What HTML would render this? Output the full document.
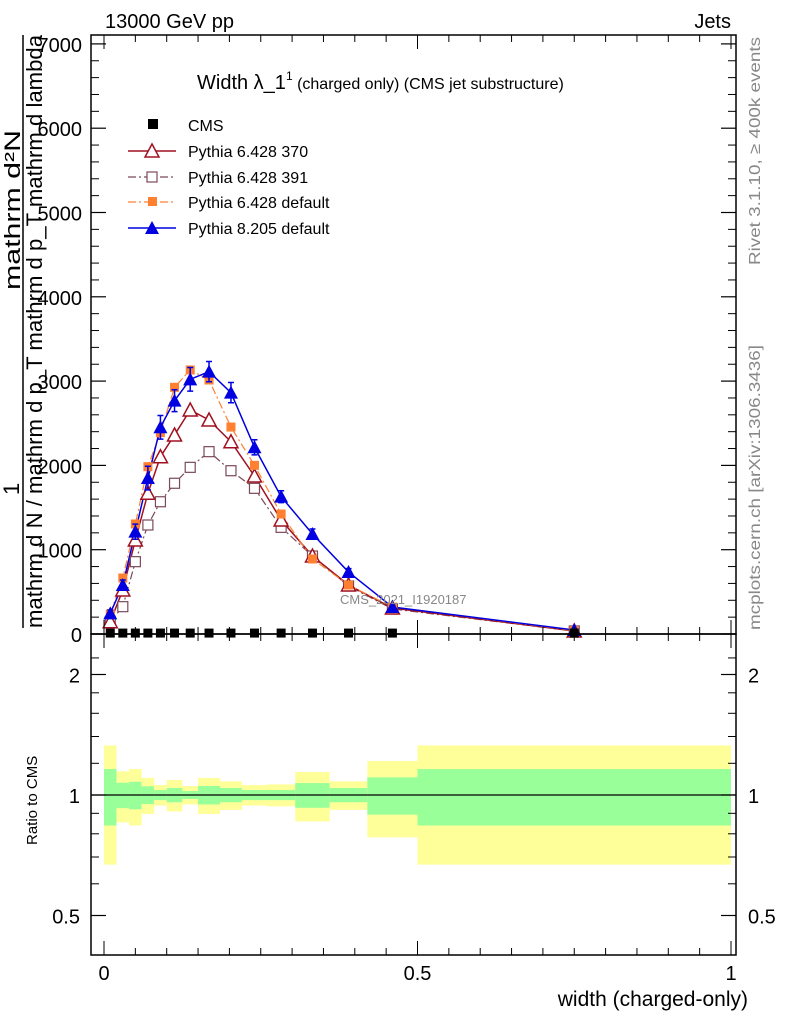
<!DOCTYPE html>
<html><head><meta charset="utf-8"><style>
body{margin:0;background:#fff}
svg{font-family:"Liberation Sans",sans-serif}
</style></head><body>
<svg id="c" width="786" height="1024" xmlns="http://www.w3.org/2000/svg">
<rect x="0" y="0" width="786" height="1024" fill="#fff"/>
<g id="ratioBands"></g>
<g id="main"></g>
<rect x="91" y="35" width="645" height="599" fill="none" stroke="#000" stroke-width="1.5"/>
<rect x="91" y="634" width="645" height="321" fill="none" stroke="#000" stroke-width="1.5"/>
<g id="axes"></g>
<text x="105" y="28" font-size="20">13000 GeV pp</text>
<text x="731" y="28" font-size="20" text-anchor="end">Jets</text>
<text x="197" y="89" font-size="20">Width λ_1<tspan font-size="12" dy="-9">1</tspan><tspan font-size="16" dy="9"> (charged only) (CMS jet substructure)</tspan></text>
<g>
<rect x="148" y="119" width="10" height="10" fill="#000"/>
<text x="188" y="131" font-size="16">CMS</text>
<line x1="128" y1="151" x2="176" y2="151" stroke="#a01020" stroke-width="1.5"/>
<polygon points="152,144 145,157 159,157" fill="#fff" stroke="#a01020" stroke-width="1.5"/>
<text x="188" y="157" font-size="16">Pythia 6.428 370</text>
<line x1="128" y1="177" x2="176" y2="177" stroke="#7a4a5a" stroke-width="1.2" stroke-dasharray="8,3,2,3"/>
<rect x="147" y="172" width="10" height="10" fill="#fff" stroke="#7a4a5a" stroke-width="1.2"/>
<text x="188" y="183" font-size="16">Pythia 6.428 391</text>
<line x1="128" y1="202" x2="176" y2="202" stroke="#ff8030" stroke-width="1.2" stroke-dasharray="8,3,2,3"/>
<rect x="148" y="197" width="9" height="9" fill="#ff8030"/>
<text x="188" y="208" font-size="16">Pythia 6.428 default</text>
<line x1="128" y1="228" x2="176" y2="228" stroke="#0000e0" stroke-width="1.5"/>
<polygon points="152,221 145,234 159,234" fill="#0000e0"/>
<text x="188" y="234" font-size="16">Pythia 8.205 default</text>
</g>
<text x="340" y="604" font-size="13" fill="#888">CMS_2021_I1920187</text>
<text transform="translate(760,265) rotate(-90)" font-size="16" fill="#888" textLength="228" lengthAdjust="spacingAndGlyphs">Rivet 3.1.10, ≥ 400k events</text>
<text transform="translate(760,630) rotate(-90)" font-size="16" fill="#888" textLength="285" lengthAdjust="spacingAndGlyphs">mcplots.cern.ch [arXiv:1306.3436]</text>
<g>
<text transform="translate(20,290) rotate(-90)" font-size="22" textLength="160" lengthAdjust="spacingAndGlyphs">mathrm d²N</text>
<line x1="23" y1="35" x2="23" y2="628" stroke="#000" stroke-width="1.5"/>
<text transform="translate(19,495) rotate(-90)" font-size="22">1</text>
<text transform="translate(42,628) rotate(-90)" font-size="22" textLength="593" lengthAdjust="spacingAndGlyphs">mathrm d N / mathrm d p_T mathrm d p_T mathrm d lambda</text>
</g>
<text transform="translate(37,845) rotate(-90)" font-size="15">Ratio to CMS</text>
<text x="748" y="1006" font-size="21" text-anchor="end">width (charged-only)</text>
</svg>
<script>
const edges=[0,0.02,0.04,0.06,0.08,0.10,0.125,0.15,0.185,0.22,0.26,0.305,0.36,0.42,0.5,1.0];
const centers=[0.01,0.03,0.05,0.07,0.09,0.1125,0.1375,0.1675,0.2025,0.24,0.2825,0.3325,0.39,0.46,0.75];
const cmsVals=[5,5,5,5,5,5,5,5,5,5,5,5,5,5,5];
const errTot=[0.33,0.146,0.161,0.103,0.059,0.090,0.053,0.103,0.082,0.059,0.063,0.141,0.082,0.216,0.33];
const errStat=[0.161,0.073,0.079,0.051,0.029,0.041,0.023,0.053,0.041,0.029,0.029,0.071,0.041,0.107,0.161];
const p8=[245,581,1214,1850,2452,2768,3021,3112,2863,2215,1629,1186,735,320,47];
const p8Err=[40,60,90,140,140,130,140,120,120,90,70,60,40,20,10];
const p6def=[238,664,1305,1985,2388,2926,3132,3013,2455,2001,1423,890,581,320,40];
const p6_370=[146,522,1115,1669,2103,2361,2657,2539,2281,1874,1352,925,581,308,36];
const p6_391=[146,324,858,1293,1569,1788,1977,2163,1937,1728,1265,925,570,297,36];
const yTicks=[0,1000,2000,3000,4000,5000,6000,7000];
const xTicks=[0,0.5,1];
const rTicks=[0.5,1,2];

const NS="http://www.w3.org/2000/svg";
const X=v=>104+v*627;
const Y=v=>634-v*0.0843;
const R=v=>795-Math.log2(v)*120.5;
function mk(tag,attrs,parent){const e=document.createElementNS(NS,tag);for(const k in attrs)e.setAttribute(k,attrs[k]);parent.appendChild(e);return e;}
const bands=document.getElementById('ratioBands');
const main=document.getElementById('main');
const axes=document.getElementById('axes');
for(let i=0;i<centers.length;i++){
  const x0=X(edges[i]),x1=X(edges[i+1]);
  let r=mk('rect',{x:x0,y:R(1+errTot[i]),width:x1-x0,height:R(1-errTot[i])-R(1+errTot[i]),fill:'#ffff99'},bands);
  
  
  r=mk('rect',{x:x0,y:R(1+errStat[i]),width:x1-x0,height:R(1-errStat[i])-R(1+errStat[i]),fill:'#99ff99'},bands);
  
  
}
let ln=mk('line',{x1:91,x2:736,y1:R(1),y2:R(1),stroke:'#000','stroke-width':1.2},bands);


function series(vals,color,dash,name,width){
  const attrs={points:vals.map((v,i)=>X(centers[i])+','+Y(v)).join(' '),fill:'none',stroke:color,'stroke-width':width};
  if(dash)attrs['stroke-dasharray']=dash;
  const p=mk('polyline',attrs,main);
  
  
}
series(p6_391,'#7a4a5a','8,3,2,3','p6-391',1.2);
series(p6_370,'#a01020','','p6-370',1.5);
series(p6def,'#ff8030','8,3,2,3','p6-default',1.2);
series(p8,'#0000e0','','p8-default',1.5);
for(let i=0;i<centers.length;i++){
  const x=X(centers[i]);
  let m=mk('rect',{x:x-5,y:Y(p6_391[i])-5,width:10,height:10,fill:'#fff',stroke:'#7a4a5a','stroke-width':1.2},main);
  
  
  m=mk('polygon',{points:`${x},${Y(p6_370[i])-7} ${x-7},${Y(p6_370[i])+6} ${x+7},${Y(p6_370[i])+6}`,fill:'#fff',stroke:'#a01020','stroke-width':1.5},main);
  
  
  m=mk('rect',{x:x-4.5,y:Y(p6def[i])-4.5,width:9,height:9,fill:'#ff8030'},main);
  
  
  m=mk('path',{d:`M${x},${Y(p8[i]-p8Err[i])}V${Y(p8[i]+p8Err[i])}M${x-3},${Y(p8[i]-p8Err[i])}h6M${x-3},${Y(p8[i]+p8Err[i])}h6`,stroke:'#0000e0','stroke-width':1.5},main);
  
  
  m=mk('polygon',{points:`${x},${Y(p8[i])-7} ${x-7},${Y(p8[i])+6} ${x+7},${Y(p8[i])+6}`,fill:'#0000e0'},main);
  
  
  m=mk('rect',{x:x-4.5,y:Y(cmsVals[i])-5,width:9,height:9,fill:'#000'},main);
  
  
}
yTicks.forEach(v=>{
  mk('line',{x1:91,x2:106,y1:Y(v),y2:Y(v),stroke:'#000','stroke-width':1.2},axes);
  mk('line',{x1:721,x2:736,y1:Y(v),y2:Y(v),stroke:'#000','stroke-width':1.2},axes);
  const t=mk('text',{x:82,y:Y(v)+8,'font-size':20,'text-anchor':'end'},axes);
  t.textContent=v;
  
  
});
for(let v=200;v<7100;v+=200){if(v%1000===0)continue;
  mk('line',{x1:91,x2:99,y1:Y(v),y2:Y(v),stroke:'#000'},axes);
  mk('line',{x1:728,x2:736,y1:Y(v),y2:Y(v),stroke:'#000'},axes);}
for(let k=0;k<=20;k++){const v=k*0.05;const big=(k%10===0);
  const L=big?14:7;
  [[634,634-L],[35,35+L],[955,955-L],[634,634+L]].forEach(a=>mk('line',{x1:X(v),x2:X(v),y1:a[0],y2:a[1],stroke:'#000'},axes));}
xTicks.forEach(v=>{const t=mk('text',{x:X(v),y:980,'font-size':20,'text-anchor':'middle'},axes);
  t.textContent=String(v);
  
  });
rTicks.forEach(v=>{
  mk('line',{x1:91,x2:106,y1:R(v),y2:R(v),stroke:'#000','stroke-width':1.2},axes);
  mk('line',{x1:721,x2:736,y1:R(v),y2:R(v),stroke:'#000','stroke-width':1.2},axes);
  let t=mk('text',{x:80,y:R(v)+8,'font-size':20,'text-anchor':'end'},axes);
  t.textContent=v;
  
  
  t=mk('text',{x:748,y:R(v)+8,'font-size':20},axes);
  t.textContent=v;
  
  
});
[0.6,0.7,0.8,0.9,1.2,1.4,1.6,1.8,2.2].forEach(v=>{
  mk('line',{x1:91,x2:99,y1:R(v),y2:R(v),stroke:'#000'},axes);
  mk('line',{x1:728,x2:736,y1:R(v),y2:R(v),stroke:'#000'},axes);});
</script>
</body></html>
